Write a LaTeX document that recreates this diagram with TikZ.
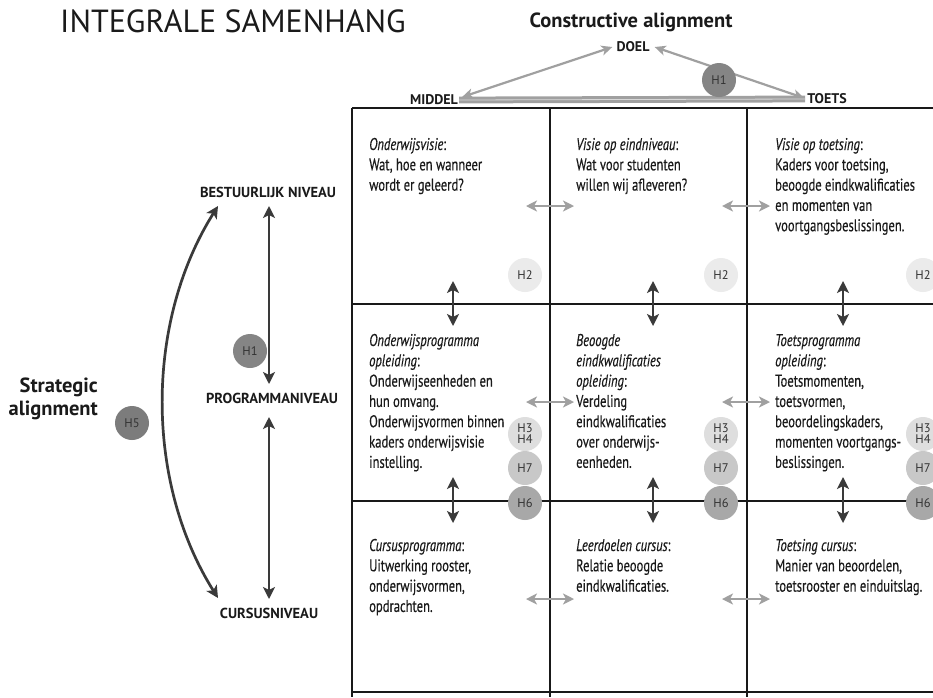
\documentclass[tikz,border=0pt]{standalone}
\usepackage{fontspec}
\setmainfont{PT Sans}
\newfontfamily\condfont{PT Sans}[FakeStretch=0.74,FakeBold=0.35]
\usetikzlibrary{arrows.meta}
\definecolor{txt}{HTML}{1A1A1A}
\definecolor{garrow}{HTML}{A0A0A0}
\definecolor{darrow}{HTML}{3A3A3A}
\definecolor{hdark}{HTML}{858585}
\definecolor{hfive}{HTML}{7C7C7C}
\definecolor{htwo}{HTML}{EBEBEB}
\definecolor{hthree}{HTML}{DEDEDE}
\definecolor{hseven}{HTML}{C8C8C8}
\definecolor{hsix}{HTML}{A8A8A8}
\newcommand{\celltxt}[1]{\parbox[t]{200pt}{\condfont\fontsize{17}{20.3}\selectfont\raggedright #1}}
\tikzset{
  gridline/.style={line width=2.8pt, draw=black!90},
  garr/.style={draw=garrow, line width=2.6pt, {Stealth[length=11pt,width=11pt,inset=3pt]}-{Stealth[length=11pt,width=11pt,inset=3pt]}},
  garrl/.style={draw=garrow, line width=2.2pt, {Stealth[length=11pt,width=10pt,inset=3pt]}-{Stealth[length=11pt,width=10pt,inset=3pt]}},
  darr/.style={draw=darrow, line width=2.7pt, {Stealth[length=12pt,width=12pt,inset=3pt]}-{Stealth[length=12pt,width=12pt,inset=3pt]}},
  hc/.style={circle, inner sep=0pt, minimum size=34pt, text=black!80, font=\fontsize{12.5}{11.5}\selectfont, align=center},
  celltext/.style={anchor=base west, inner sep=0pt, text=txt},
  lvl/.style={font=\bfseries\fontsize{14.5}{15}\selectfont, text=txt, inner sep=0pt},
  tri/.style={font=\bfseries\fontsize{14}{15}\selectfont, text=txt, inner sep=0pt},
}
\begin{document}
\begin{tikzpicture}[x=1pt,y=-1pt]
\useasboundingbox (0,0) rectangle (933,697);
\fill[white] (0,0) rectangle (933,697);
\clip (0,0) rectangle (933,697);

% titles
\node[anchor=base west, inner sep=0pt, text=txt, font=\fontsize{32}{32}\selectfont] (title) at (60,32) {INTEGRALE SAMENHANG};
\node[anchor=base, inner sep=0pt, text=txt, font=\bfseries\fontsize{20.5}{22}\selectfont] (ca) at (631,27) {Constructive alignment};

% triangle
\node[tri] (doel) at (633,47) {DOEL};
\node[tri] (middel) at (434,100) {MIDDEL};
\node[tri] (toets) at (827,99) {TOETS};
\draw[garrl] ([xshift=4pt,yshift=3pt]middel.east) -- ([xshift=-4pt]doel.west);
\draw[garrl] ([xshift=5pt]doel.east) -- ([xshift=-3pt,yshift=1pt]toets.west);
\draw[draw=garrow, line width=3pt, double=garrow!40, double distance=0.8pt] ([xshift=1pt]middel.east) -- ([xshift=-2pt]toets.west);
\node[hc, fill=hdark] (h1top) at (719,80) {H1};

% grid
\draw[gridline] (352,108) -- (933,108);
\draw[gridline] (352,304) -- (933,304);
\draw[gridline] (352,501) -- (933,501);
\draw[gridline] (352,692) -- (933,692);
\draw[gridline] (352,108) -- (352,697);
\draw[gridline] (550,108) -- (550,697);
\draw[gridline] (747,108) -- (747,697);

% grey horizontal arrows
\foreach \y/\n in {206/a,402/b,599/c}{
  \coordinate (gl\n1) at (526,\y); \coordinate (gr\n1) at (574,\y);
  \coordinate (gl\n2) at (722,\y); \coordinate (gr\n2) at (770,\y);
  \draw[garr] (gl\n1) -- (gr\n1);
  \draw[garr] (gl\n2) -- (gr\n2);
}
% dark vertical arrows
\foreach \x/\n in {453/a,653/b,843/c}{
  \coordinate (vt\n1) at (\x,281); \coordinate (vb\n1) at (\x,326);
  \coordinate (vt\n2) at (\x,477); \coordinate (vb\n2) at (\x,523);
  \draw[darr] (vt\n1) -- (vb\n1);
  \draw[darr] (vt\n2) -- (vb\n2);
}

% circles
\foreach \x/\n in {525/a,721/b,923/c}{
  \node[hc, fill=htwo] (htwo\n) at (\x,275) {H2};
  \node[hc, fill=hthree, font=\fontsize{12.5}{11}\selectfont] (hthree\n) at (\x,434) {H3\\H4};
  \node[hc, fill=hseven] (hseven\n) at (\x,468) {H7};
  \node[hc, fill=hsix] (hsix\n) at (\x,503) {H6};
}

% cell texts
\node[celltext] (c11) at (369,150) {\celltxt{\textit{Onderwijsvisie}:\\Wat, hoe en wanneer\\wordt er geleerd?}};
\node[celltext] (c12) at (576,150) {\celltxt{\textit{Visie op eindniveau}:\\Wat voor studenten\\willen wij afleveren?}};
\node[celltext] (c13) at (775,150) {\celltxt{\textit{Visie op toetsing}:\\Kaders voor toetsing,\\beoogde eindkwalificaties\\en momenten van\\voortgangsbeslissingen.}};
\node[celltext] (c21) at (369,346) {\celltxt{\textit{Onderwijsprogramma}\\\textit{opleiding}:\\Onderwijseenheden en\\hun omvang.\\Onderwijsvormen binnen\\kaders onderwijsvisie\\instelling.}};
\node[celltext] (c22) at (576,346) {\celltxt{\textit{Beoogde}\\\textit{eindkwalificaties}\\\textit{opleiding}:\\Verdeling\\eindkwalificaties\\over onderwijs-\\eenheden.}};
\node[celltext] (c23) at (775,346) {\celltxt{\textit{Toetsprogramma}\\\textit{opleiding}:\\Toetsmomenten,\\toetsvormen,\\beoordelingskaders,\\momenten voortgangs-\\beslissingen.}};
\node[celltext] (c31) at (369,551) {\celltxt{\textit{Cursusprogramma}:\\Uitwerking rooster,\\onderwijsvormen,\\opdrachten.}};
\node[celltext] (c32) at (576,551) {\celltxt{\textit{Leerdoelen cursus}:\\Relatie beoogde\\eindkwalificaties.}};
\node[celltext] (c33) at (775,551) {\celltxt{\textit{Toetsing cursus}:\\Manier van beoordelen,\\toetsrooster en einduitslag.}};

% left side
\node[lvl] (best) at (268,192) {BESTUURLIJK NIVEAU};
\node[lvl] (prog) at (272,398) {PROGRAMMANIVEAU};
\node[lvl] (curs) at (269,613) {CURSUSNIVEAU};
\coordinate (v1t) at (269,206); \coordinate (v1b) at (269,384);
\coordinate (v2t) at (269,417); \coordinate (v2b) at (269,599);
\draw[darr] (v1t) -- (v1b);
\draw[darr] (v2t) -- (v2b);
\node[hc, fill=hdark] (h1left) at (250,351) {H1};
\coordinate (sat) at (218,206); \coordinate (sab) at (218,598);
\draw[darr] (sat) .. controls (145,322) and (145,482) .. (sab);
\node[hc, fill=hfive] (h5) at (132,423) {H5};
\node[anchor=east, align=right, inner sep=0pt, text=txt, font=\bfseries\fontsize{20.5}{23.5}\selectfont] (strat) at (98,399) {Strategic\\alignment};
\end{tikzpicture}
\end{document}
